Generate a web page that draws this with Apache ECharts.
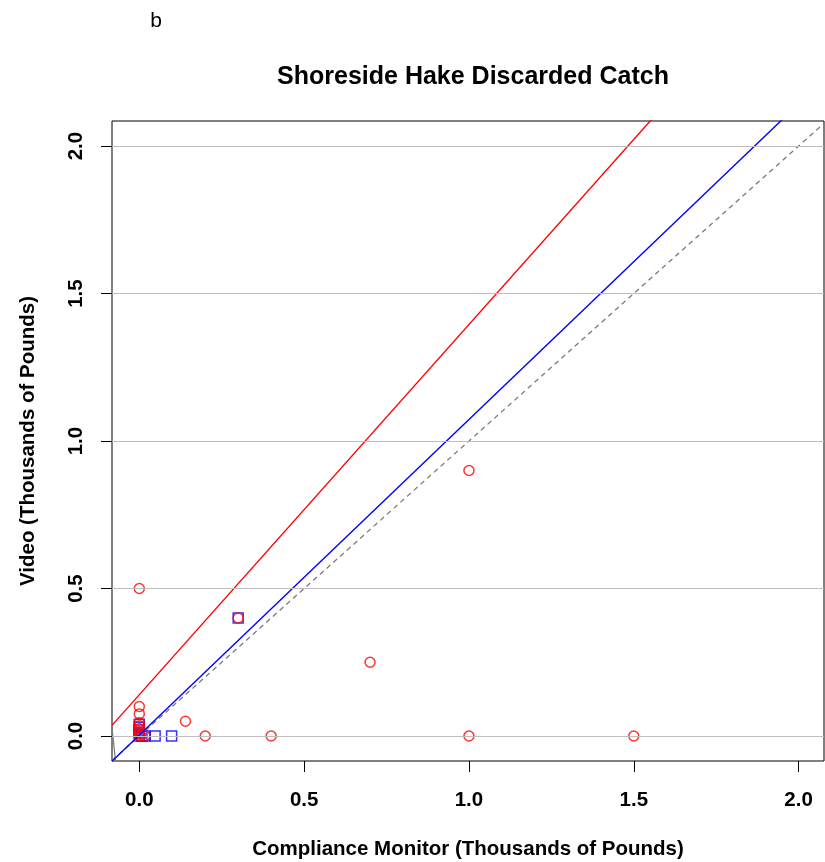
<!DOCTYPE html>
<html>
<head>
<meta charset="utf-8">
<script src="https://cdn.jsdelivr.net/npm/echarts@6/dist/echarts.min.js"></script>
<style>
  html, body { margin: 0; padding: 0; background: #fff; }
  #chart { width: 825px; height: 862px; }
</style>
</head>
<body>
<div id="chart"></div>
<script>
// points (Compliance Monitor, Video), thousands of pounds
var redCircles = [
  [0, 0.5], [1.0, 0.9], [0.7, 0.25], [0.3, 0.4], [0.14, 0.05],
  [0.2, 0], [0.4, 0], [1.0, 0], [1.5, 0],
  [0, 0.1], [0, 0.075], [0, 0.045], [0, 0.035], [0, 0.025],
  [0, 0.015], [0, 0.008], [0, 0], [0.005, 0], [0.017, 0]
];
var blueSquares = [
  [0.3, 0.4], [0.048, 0], [0.098, 0], [0.017, 0], [0.008, 0], [0, 0],
  [0, 0.04], [0, 0.03], [0, 0.02], [0, 0.01]
];
// fitted lines: [intercept, slope]
var redFit = [0.14, 1.255];
var blueFit = [0.003, 1.07];
var oneToOne = [0, 1];
// short grey segment at the lower left corner
var greySeg = [[-0.083, 0.03], [-0.072, -0.085]];

var tickValues = [0, 0.5, 1, 1.5, 2];
var xRange = [-0.0828, 2.077];
var yRange = [-0.0847, 2.085];

function abline(fit) {
  return [
    [xRange[0], fit[0] + fit[1] * xRange[0]],
    [xRange[1], fit[0] + fit[1] * xRange[1]]
  ];
}

var font = 'Liberation Sans, Arial, sans-serif';
var myChart = echarts.init(document.getElementById('chart'));

var option = {
  animation: false,
  title: [
    {
      text: 'Shoreside Hake Discarded Catch',
      left: 468, top: 60, textAlign: 'center',
      textStyle: { fontFamily: font, fontSize: 25, fontWeight: 'bold', color: '#000' }
    },
    {
      text: 'b',
      left: 151, top: 6, textAlign: 'center',
      textStyle: { fontFamily: font, fontSize: 21, fontWeight: 'normal', color: '#000' }
    }
  ],
  grid: {
    left: 112, right: 1, top: 121, bottom: 101,
    outerBoundsMode: 'none', containLabel: false,
    show: true, borderColor: '#000', borderWidth: 1, backgroundColor: 'transparent'
  },
  xAxis: {
    type: 'value',
    min: xRange[0], max: xRange[1],
    name: 'Compliance Monitor (Thousands of Pounds)',
    nameLocation: 'middle', nameGap: 78,
    nameTextStyle: { fontFamily: font, fontSize: 20.5, fontWeight: 'bold', color: '#000' },
    axisLine: { show: false, onZero: false },
    axisTick: { show: true, inside: false, length: 11, customValues: tickValues,
      lineStyle: { color: '#000', width: 1 } },
    axisLabel: { customValues: tickValues, margin: 29,
      fontFamily: font, fontSize: 20.5, fontWeight: 'bold', color: '#000',
      formatter: function (v) { return v.toFixed(1); } },
    splitLine: { show: false }
  },
  yAxis: {
    type: 'value',
    min: yRange[0], max: yRange[1],
    name: 'Video (Thousands of Pounds)',
    nameLocation: 'middle', nameGap: 73,
    nameTextStyle: { fontFamily: font, fontSize: 20.5, fontWeight: 'bold', color: '#000' },
    axisLine: { show: false, onZero: false },
    axisTick: { show: true, inside: false, length: 11, customValues: tickValues,
      lineStyle: { color: '#000', width: 1 } },
    axisLabel: { customValues: tickValues, margin: 25, rotate: 90,
      fontFamily: font, fontSize: 20.5, fontWeight: 'bold', color: '#000',
      formatter: function (v) { return v.toFixed(1); } },
    splitLine: { show: false }
  },
  series: [
    {
      name: 'grid', type: 'line', data: [], silent: true,
      markLine: {
        silent: true, symbol: 'none', animation: false,
        label: { show: false },
        lineStyle: { color: '#bebebe', width: 1.2, type: 'solid' },
        data: tickValues.map(function (v) { return { yAxis: v }; })
      }
    },
    {
      name: 'one-to-one', type: 'line', data: abline(oneToOne), symbol: 'none',
      lineStyle: { color: '#7a7a7a', width: 1.3, type: [5, 4] }, silent: true
    },
    {
      name: 'grey', type: 'line', data: greySeg, symbol: 'none',
      lineStyle: { color: '#7a7a7a', width: 1.2 }, silent: true
    },
    {
      name: 'blue fit', type: 'line', data: abline(blueFit), symbol: 'none',
      lineStyle: { color: '#0000ff', width: 1.4 }, silent: true
    },
    {
      name: 'red fit', type: 'line', data: abline(redFit), symbol: 'none',
      lineStyle: { color: '#ff0000', width: 1.4 }, silent: true
    },
    {
      name: 'blue', type: 'scatter', data: blueSquares, symbol: 'rect', symbolSize: 10,
      itemStyle: { color: 'transparent', borderColor: '#0000ff', borderWidth: 1.5 }
    },
    {
      name: 'red', type: 'scatter', data: redCircles, symbol: 'circle', symbolSize: 10,
      itemStyle: { color: 'transparent', borderColor: '#ff0000', borderWidth: 1.5 }
    }
  ]
};

myChart.setOption(option);
</script>
</body>
</html>
